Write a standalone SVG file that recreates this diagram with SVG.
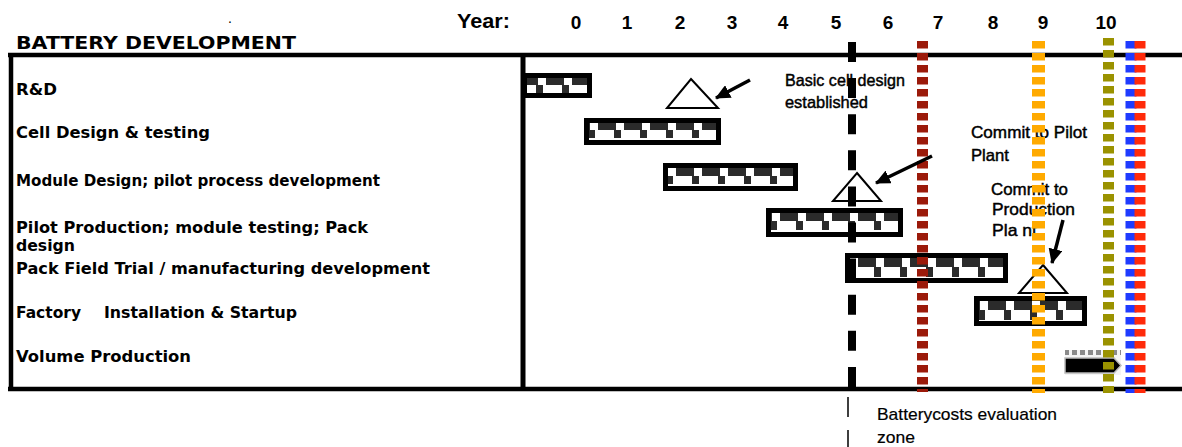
<svg xmlns="http://www.w3.org/2000/svg" width="1182" height="447" viewBox="0 0 1182 447">
  <style>
    .lbl { font-family: "DejaVu Sans", "Liberation Sans", sans-serif; font-weight: bold; font-size: 15.5px; fill: #000; }
    .hdr { font-family: "Liberation Sans", Arial, sans-serif; font-weight: bold; font-size: 20px; fill: #000; }
    .num { font-family: "Liberation Sans", Arial, sans-serif; font-weight: bold; font-size: 19px; fill: #000; text-anchor: middle; }
    .note { font-family: "Liberation Sans", Arial, sans-serif; font-size: 17px; fill: #000; stroke: #000; stroke-width: 0.45; }
    .frame { stroke: #000; stroke-width: 4.5; fill: none; }
    .bar { fill: #fff; stroke: #000; stroke-width: 5; }
    .ms { fill: #fff; stroke: #000; stroke-width: 2; }
    .arw { stroke: #000; stroke-width: 3.5; fill: none; marker-end: url(#head); }
    .dots { fill: none; stroke-width: 11; stroke-dasharray: 7.5 4.5; }
  </style>
  <defs>
    <!-- two-row checker fill used inside every task bar -->
    <pattern id="rowA" patternUnits="userSpaceOnUse" width="26" height="400">
      <rect x="0" y="0" width="18" height="400" fill="#2b2b2b"/>
    </pattern>
    <pattern id="rowB" patternUnits="userSpaceOnUse" width="26" height="400">
      <rect x="16" y="0" width="7" height="400" fill="#2b2b2b"/>
    </pattern>
    <pattern id="light" patternUnits="userSpaceOnUse" width="8" height="400">
      <rect x="0" y="0" width="5" height="400" fill="#8a8a8a"/>
    </pattern>
    <marker id="head" markerUnits="userSpaceOnUse" markerWidth="16" markerHeight="14" refX="14" refY="7" orient="auto">
      <path d="M0,0 L15,7 L0,14 Z" fill="#000"/>
    </marker>
  </defs>

  <rect width="1182" height="447" fill="#fff"/>

  <!-- header -->
  <g id="header">
    <text x="16" y="49" class="hdr" style="font-family:'DejaVu Sans',sans-serif;font-size:18px" textLength="280" lengthAdjust="spacingAndGlyphs">BATTERY DEVELOPMENT</text>
    <text x="228" y="23" font-family="Liberation Sans, sans-serif" font-size="14">.</text>
    <text x="457" y="28" class="hdr" textLength="53" lengthAdjust="spacingAndGlyphs">Year:</text>
    <text x="576" y="29" class="num">0</text>
    <text x="627" y="29" class="num">1</text>
    <text x="680" y="29" class="num">2</text>
    <text x="732" y="29" class="num">3</text>
    <text x="783" y="29" class="num">4</text>
    <text x="836" y="29" class="num">5</text>
    <text x="888" y="29" class="num">6</text>
    <text x="938" y="29" class="num">7</text>
    <text x="993" y="29" class="num">8</text>
    <text x="1043" y="29" class="num">9</text>
    <text x="1106" y="29" class="num">10</text>
  </g>

  <!-- table frame -->
  <g id="frame">
    <line x1="8" y1="55" x2="1182" y2="55" class="frame"/>
    <line x1="8" y1="389" x2="1182" y2="389" class="frame"/>
    <line x1="11" y1="53" x2="11" y2="391" class="frame"/>
    <line x1="523" y1="53" x2="523" y2="391" class="frame" style="stroke-width:5"/>
  </g>

  <!-- task rows: label + bar -->
  <g id="row-rd">
    <text x="16" y="95" class="lbl" textLength="41" lengthAdjust="spacingAndGlyphs">R&amp;D</text>
    <rect x="524.5" y="75.5" width="65" height="20" class="bar"/>
    <rect x="527" y="78" width="60" height="7" fill="url(#rowA)"/>
    <rect x="527" y="85" width="60" height="8" fill="url(#rowB)"/>
  </g>
  <g id="row-cell">
    <text x="16" y="138" class="lbl" textLength="194" lengthAdjust="spacingAndGlyphs">Cell Design &amp; testing</text>
    <rect x="586.5" y="120.5" width="132" height="22" class="bar"/>
    <rect x="589" y="123" width="127" height="7" fill="url(#rowA)"/>
    <rect x="589" y="130" width="127" height="8" fill="url(#rowB)"/>
  </g>
  <g id="row-module">
    <text x="16" y="186" class="lbl" textLength="364" lengthAdjust="spacingAndGlyphs">Module Design; pilot process development</text>
    <rect x="665.5" y="165.5" width="130" height="23" class="bar"/>
    <rect x="668" y="168" width="125" height="8" fill="url(#rowA)"/>
    <rect x="668" y="176" width="125" height="8" fill="url(#rowB)"/>
  </g>
  <g id="row-pilot">
    <text class="lbl"><tspan x="16" y="233" textLength="352" lengthAdjust="spacingAndGlyphs">Pilot Production; module testing; Pack</tspan><tspan x="16" y="251" textLength="59" lengthAdjust="spacingAndGlyphs">design</tspan></text>
    <rect x="768.5" y="210.5" width="132" height="24" class="bar"/>
    <rect x="771" y="213" width="127" height="8" fill="url(#rowA)"/>
    <rect x="771" y="221" width="127" height="9" fill="url(#rowB)"/>
  </g>
  <g id="row-field">
    <text x="16" y="274" class="lbl" textLength="414" lengthAdjust="spacingAndGlyphs">Pack Field Trial / manufacturing development</text>
    <rect x="847.5" y="255.5" width="158" height="25" class="bar"/>
    <rect x="850" y="258" width="153" height="9" fill="url(#rowA)"/>
    <rect x="850" y="267" width="153" height="10" fill="url(#rowB)"/>
  </g>
  <g id="row-factory">
    <text class="lbl" y="318"><tspan x="16" textLength="65" lengthAdjust="spacingAndGlyphs">Factory</tspan><tspan x="104" textLength="193" lengthAdjust="spacingAndGlyphs">Installation &amp; Startup</tspan></text>
    <rect x="976.5" y="298.5" width="108" height="25" class="bar"/>
    <rect x="979" y="301" width="103" height="9" fill="url(#rowA)"/>
    <rect x="979" y="310" width="103" height="10" fill="url(#rowB)"/>
  </g>
  <g id="row-volume">
    <text x="16" y="362" class="lbl" textLength="175" lengthAdjust="spacingAndGlyphs">Volume Production</text>
    <rect x="1065" y="350" width="56" height="25" fill="#f4f4f4"/>
    <rect x="1065" y="350" width="56" height="5" fill="url(#light)"/>
    <path d="M1065,358 L1114,358 L1121,365.5 L1114,373 L1065,373 Z" fill="#000" stroke="#bbb" stroke-width="1.5"/>
  </g>

  <!-- milestone markers -->
  <g id="milestone-cell">
    <path d="M691,79 L718,108 L667,108 Z" class="ms"/>
  </g>
  <g id="milestone-pilot">
    <path d="M857,173 L881,201 L833,201 Z" class="ms"/>
  </g>
  <g id="milestone-production">
    <path d="M1043,265 L1067,293 L1019,293 Z" class="ms"/>
  </g>

  <!-- annotations -->
  <g id="note-cell">
    <text class="note" x="785" y="86" textLength="120" lengthAdjust="spacingAndGlyphs">Basic cell design</text>
    <text class="note" x="785" y="108" textLength="83" lengthAdjust="spacingAndGlyphs">established</text>
  </g>
  <g id="note-pilot">
    <text class="note" x="971" y="138" font-size="16" textLength="116" lengthAdjust="spacingAndGlyphs">Commit to Pilot</text>
    <text class="note" x="971" y="161" font-size="16" textLength="38" lengthAdjust="spacingAndGlyphs">Plant</text>
  </g>
  <g id="note-production">
    <text class="note" x="991" y="195" font-size="16" textLength="77" lengthAdjust="spacingAndGlyphs">Commit to</text>
    <text class="note" x="992" y="215" font-size="16" textLength="83" lengthAdjust="spacingAndGlyphs">Production</text>
    <text class="note" x="992" y="236" font-size="16" textLength="45" lengthAdjust="spacingAndGlyphs">Pla nt</text>
  </g>
  <g id="note-zone">
    <text class="note" x="877" y="420" font-size="18" style="stroke-width:0.2" textLength="180" lengthAdjust="spacingAndGlyphs">Batterycosts evaluation</text>
    <text class="note" x="877" y="443" font-size="18" style="stroke-width:0.2" textLength="38" lengthAdjust="spacingAndGlyphs">zone</text>
  </g>

  <!-- year marker lines -->
  <g id="markers">
    <line x1="852" y1="42" x2="852" y2="387" stroke="#000" stroke-width="8" stroke-dasharray="20 16.1"/>
    <line x1="848" y1="397" x2="848" y2="447" stroke="#000" stroke-width="1.5" stroke-dasharray="20 13"/>
    <line x1="922.5" y1="41" x2="922.5" y2="392" class="dots" stroke="#9b1a0a"/>
    <line x1="1038.5" y1="41" x2="1038.5" y2="393" class="dots" stroke="#ffaa00" style="stroke-width:13"/>
    <line x1="1108.5" y1="38" x2="1108.5" y2="393" class="dots" stroke="#9a9200"/>
    <line x1="1131" y1="41" x2="1131" y2="393" class="dots" stroke="#1f3bff"/>
    <line x1="1140" y1="41" x2="1140" y2="393" class="dots" stroke="#ff2a0a"/>
  </g>

  <!-- connectors -->
  <g id="connectors">
    <line x1="750" y1="80" x2="716" y2="98" class="arw"/>
    <line x1="932" y1="156" x2="876" y2="183" class="arw"/>
    <line x1="1063" y1="220" x2="1052" y2="263" class="arw"/>
  </g>
</svg>
